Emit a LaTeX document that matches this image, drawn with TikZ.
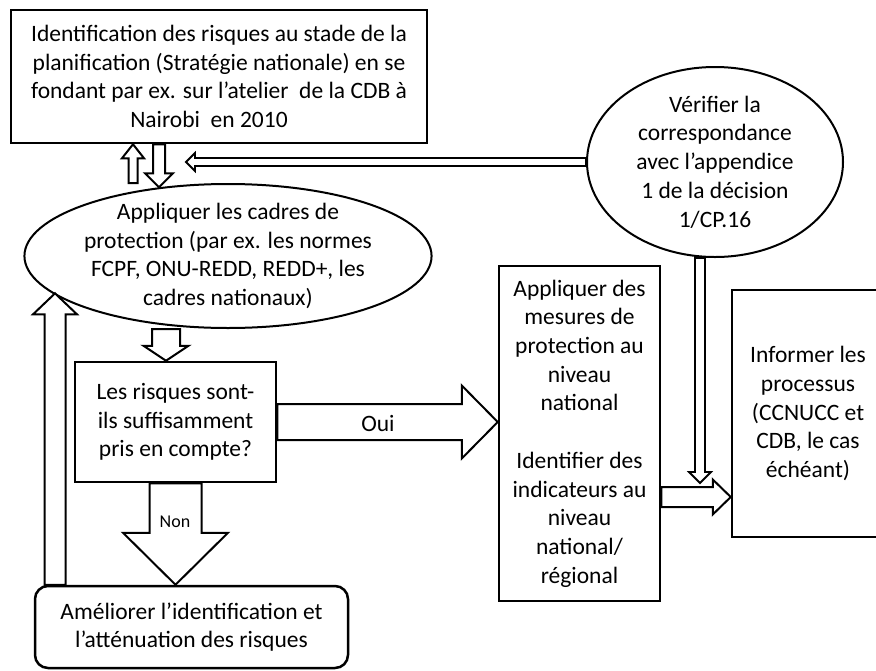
\documentclass[tikz,border=0pt]{standalone}
\usepackage{fontspec}
\setmainfont{Carlito}
\usetikzlibrary{shapes.geometric,calc}

% hollow block arrow from #1 to #2: half shaft #3, half head #4, head length #5
\newcommand\blockarr[6][]{%
  \path let \p1=(#2), \p2=(#3) in \pgfextra{%
    \pgfmathsetmacro\arlen{veclen(\x2-\x1,\y2-\y1)}%
    \pgfmathsetmacro\arang{atan2(\y2-\y1,\x2-\x1)}%
    \xdef\arlen{\arlen}\xdef\arang{\arang}};
  \draw[blk,#1,shift={(#2)},rotate=\arang]
    (0,-#4) -- (\arlen-#6,-#4) -- (\arlen-#6,-#5) -- (\arlen,0)
    -- (\arlen-#6,#5) -- (\arlen-#6,#4) -- (0,#4) -- cycle;}

\begin{document}
\begin{tikzpicture}[x=1pt,y=-1pt,
  every node/.style={font=\fontsize{23.5}{28.7}\selectfont, align=center, inner sep=0pt},
  boxnode/.style={draw, rectangle, line width=2.5pt},
  ellnode/.style={draw, ellipse, line width=2pt, inner xsep=0pt},
  blk/.style={draw, line width=2pt, fill=white, line join=miter},
  thinblk/.style={line width=1.8pt}]
\useasboundingbox (0,0) rectangle (876,670);
\clip (0,0) rectangle (876,670);

% nodes
\node[boxnode, minimum width=416, minimum height=133] (top) at (219,76.5)
  {Identification des risques au stade de la\\
   planification (Stratégie nationale) en se\\
   fondant par ex. sur l’atelier\ \ de la CDB à\\
   Nairobi\ \ en 2010\hspace*{20pt}};
\node[ellnode, inner ysep=-9pt, minimum width=404, minimum height=144] (ell1) at (228,256)
  {Appliquer les cadres de\\
   protection (par ex. les normes\\
   FCPF, ONU-REDD, REDD+, les\\
   cadres nationaux)};
\node[ellnode, inner ysep=-6pt, minimum width=256, minimum height=190] (ell2) at (715,162)
  {Vérifier la\\ correspondance\\ avec l’appendice\\ 1 de la décision\\ 1/CP.16};
\node[boxnode, minimum width=201, minimum height=120] (q) at (175.5,422)
  {Les risques sont-\\ ils suffisamment\\ pris en compte?};
\node[boxnode, minimum width=161, minimum height=335] (mid) at (579.5,433.5)
  {Appliquer des\\ mesures de\\ protection au\\ niveau\\ national\\[28.7pt]
   Identifier des\\ indicateurs au\\ niveau\\ national/\\ régional};
\node[boxnode, minimum width=152, minimum height=247] (info) at (808,413.5)
  {Informer les\\ processus\\ (CCNUCC et\\ CDB, le cas\\ échéant)};
\node[boxnode, rounded corners=13pt, minimum width=313, minimum height=82] (am) at (191.5,627)
  {Améliorer l’identification et\\ l’atténuation des risques};

% helper coordinates for connector positions
\coordinate (a1) at (133,0);
\coordinate (a2) at (159,0);
\coordinate (a4) at (166,0);
\coordinate (a7) at (55,0);
\coordinate (a8) at (700,0);
\coordinate (r9) at (0,497);
\coordinate (lefttip) at (186,162);
\coordinate (downtip) at (700,483);

% connectors (hollow block arrows)
\blockarr{a1 |- ell1.north}{a1 |- top.south}{4.5}{11}{14}
\blockarr{a2 |- top.south}{a2 |- ell1.135}{6}{14}{14}
\blockarr[thinblk]{ell2.west}{lefttip}{4}{9}{9}
\blockarr{a4 |- ell1.south}{a4 |- q.north}{14}{22.5}{15}
\blockarr{q.east}{q.east -| mid.west}{18}{36.5}{36}
\blockarr{q.south}{q.south |- am.north}{26}{52.5}{52}
\blockarr{a7 |- am.north}{a7 |- ell1.-168}{10.5}{22}{21}
\blockarr[thinblk]{a8 |- ell2.south}{downtip}{5}{11}{11}
\blockarr{mid.east |- r9}{info.west |- r9}{10}{17.5}{18}

% labels
\node (oui) at (378,423) {Oui};
\node[font=\fontsize{18}{21}\selectfont] (non) at (175,522) {Non};
\end{tikzpicture}
\end{document}
